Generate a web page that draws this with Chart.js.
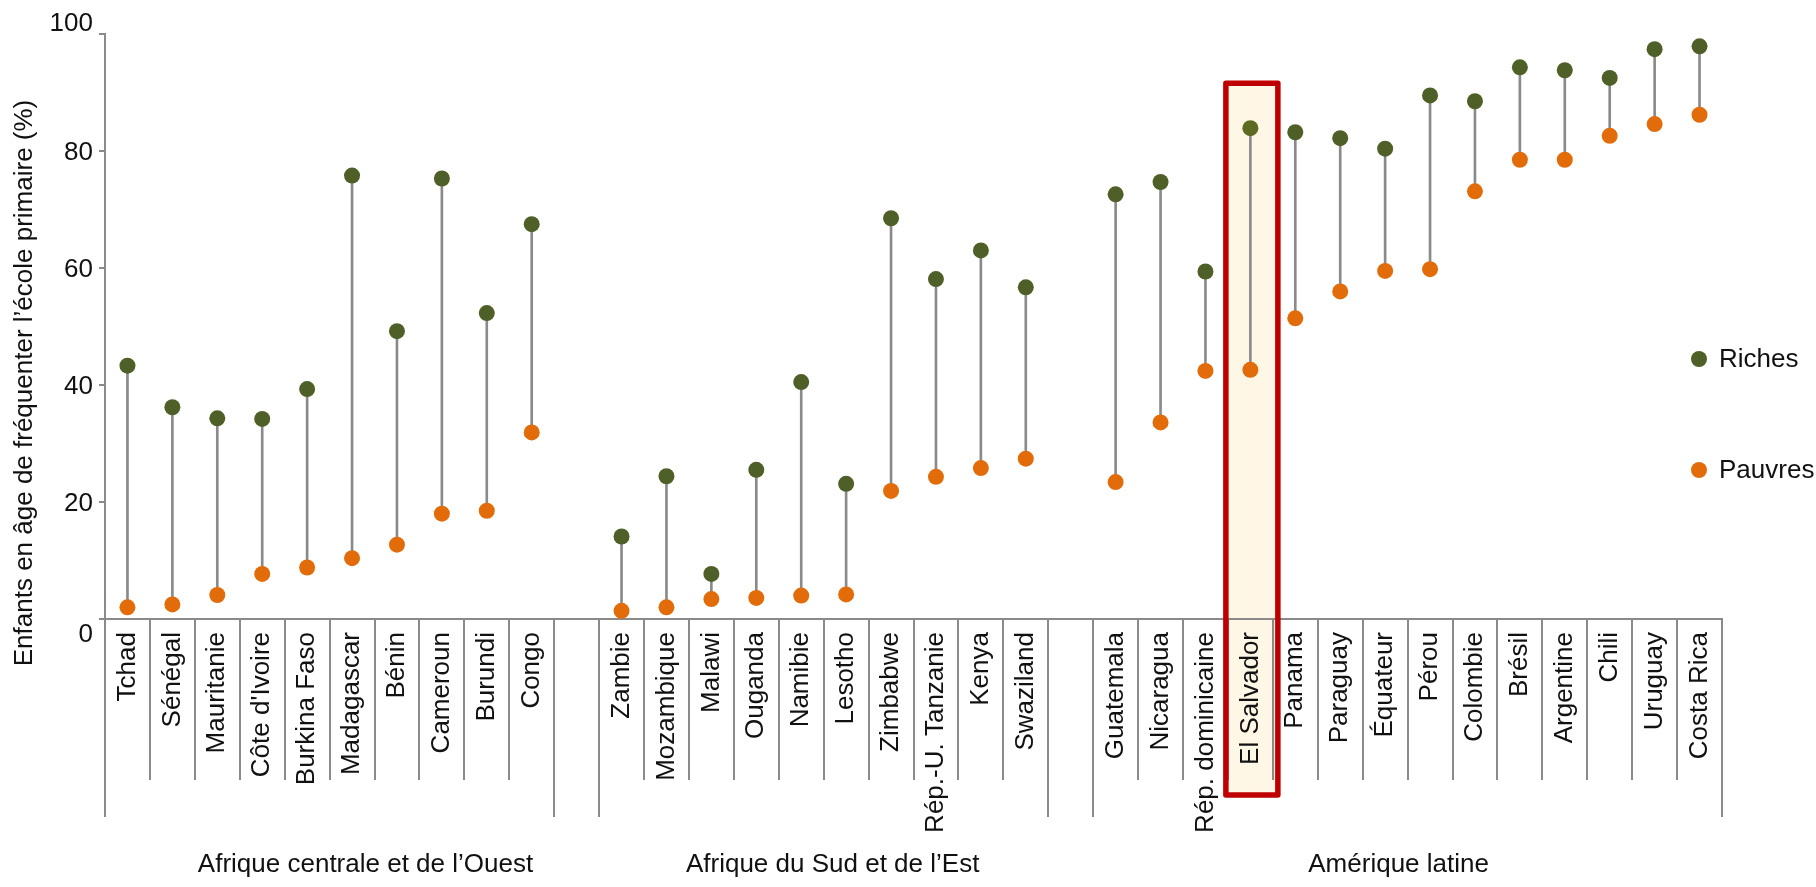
<!DOCTYPE html>
<html lang="fr">
<head>
<meta charset="utf-8">
<title>Fréquentation de l'école primaire, riches et pauvres</title>
<script src="https://cdn.jsdelivr.net/npm/chart.js@4.4.1/dist/chart.umd.min.js"></script>
<style>
  html, body { margin: 0; padding: 0; background: #fff; }
  #wrap { width: 1816px; height: 887px; position: relative; }
</style>
</head>
<body>
<div id="wrap"><canvas id="dumbbell"></canvas></div>
<script>
// -----------------------------
// Data
// -----------------------------
const pays = [
    'Tchad', 'Sénégal', 'Mauritanie', "Côte d'Ivoire", 'Burkina Faso', 'Madagascar', 'Bénin', 'Cameroun', 'Burundi', 'Congo',
    '',
    'Zambie', 'Mozambique', 'Malawi', 'Ouganda', 'Namibie', 'Lesotho', 'Zimbabwe', 'Rép.-U. Tanzanie', 'Kenya', 'Swaziland',
    '',
    'Guatemala', 'Nicaragua', 'Rép. dominicaine', 'El Salvador', 'Panama', 'Paraguay', 'Équateur', 'Pérou', 'Colombie',
    'Brésil', 'Argentine', 'Chili', 'Uruguay', 'Costa Rica'
];

const riches = [
    43.3, 36.2, 34.3, 34.2, 39.3, 75.8, 49.2, 75.3, 52.3, 67.5,
    null,
    14.1, 24.4, 7.7, 25.5, 40.5, 23.1, 68.5, 58.1, 63.0, 56.7,
    null,
    72.6, 74.7, 59.4, 83.9, 83.2, 82.2, 80.4, 89.5, 88.5, 94.3, 93.8, 92.5, 97.4, 97.9
];

const pauvres = [
    2.0, 2.5, 4.1, 7.7, 8.8, 10.4, 12.7, 18.0, 18.5, 31.9,
    null,
    1.4, 2.0, 3.4, 3.6, 4.0, 4.2, 21.9, 24.3, 25.8, 27.4,
    null,
    23.4, 33.6, 42.4, 42.6, 51.4, 56.0, 59.5, 59.8, 73.1, 78.5, 78.5, 82.6, 84.6, 86.2
];

const regions = ['Afrique centrale et de l’Ouest', 'Afrique du Sud et de l’Est', 'Amérique latine'];
const yTicks = [0, 20, 40, 60, 80, 100];
const yTitle = 'Enfants en âge de fréquenter l’école primaire (%)';
const highlighted = 'El Salvador';

// -----------------------------
// Styles
// -----------------------------
const FONT = "'Liberation Sans', Arial, Helvetica, sans-serif";
const GREEN = '#4e5f28';
const ORANGE = '#e36c0a';
const GREY = '#8a8a8a';
const INK = '#111111';

// where the region labels sit, in category units
const regionAnchors = [5.3, 15.7, 28.3];
// boundaries (category index) that get the long separator
const longSeps = [0, 10, 11, 21, 22, 36];

const hiIndex = pays.indexOf(highlighted);

// -----------------------------
// Extra drawing: highlight box, separators, labels, legend
// -----------------------------
const decorPlugin = {
    id: 'decor',
    beforeDraw(chart) {
        const { ctx, scales: { x, y } } = chart;
        const c = x.getPixelForValue(hiIndex);
        const top = y.getPixelForValue(91.6);
        ctx.save();
        ctx.fillStyle = '#fff7e6';
        ctx.fillRect(c - 24.5, top, 52, chart.chartArea.bottom + 176 - top);
        ctx.restore();
    },
    afterDraw(chart) {
        const { ctx, chartArea, scales: { x, y } } = chart;
        const bottom = chartArea.bottom;

        // category separators under the axis
        ctx.save();
        ctx.strokeStyle = GREY;
        ctx.lineWidth = 2;
        for (let b = 0; b <= pays.length; b++) {
            const px = Math.round(x.getPixelForValue(b - 0.5));
            const len = longSeps.includes(b) ? 198 : 161;
            ctx.beginPath();
            ctx.moveTo(px, bottom);
            ctx.lineTo(px, bottom + len);
            ctx.stroke();
        }
        ctx.restore();

        // y tick labels (0 sits below the axis, 100 above its tick)
        ctx.save();
        ctx.font = `26px ${FONT}`;
        ctx.fillStyle = INK;
        ctx.textAlign = 'right';
        ctx.textBaseline = 'middle';
        yTicks.forEach(v => {
            let py = y.getPixelForValue(v) + 2;
            if (v === 100) py -= 12;
            if (v === 0) py += 14;
            ctx.fillText(String(v), chartArea.left - 12, py);
        });
        ctx.restore();

        // y title
        ctx.save();
        ctx.font = `26px ${FONT}`;
        ctx.fillStyle = INK;
        ctx.textAlign = 'center';
        ctx.textBaseline = 'middle';
        ctx.translate(25, 383);
        ctx.rotate(-Math.PI / 2);
        ctx.fillText(yTitle, 0, 0);
        ctx.restore();

        // region labels
        ctx.save();
        ctx.font = `26px ${FONT}`;
        ctx.fillStyle = INK;
        ctx.textAlign = 'center';
        ctx.textBaseline = 'alphabetic';
        regions.forEach((name, i) => {
            ctx.fillText(name, x.getPixelForValue(regionAnchors[i]), bottom + 253);
        });
        ctx.restore();

        // legend (right side)
        const legendRows = [
            { label: chart.data.datasets[0].label, color: GREEN, y: 359 },
            { label: chart.data.datasets[1].label, color: ORANGE, y: 470 }
        ];
        ctx.save();
        ctx.font = `26px ${FONT}`;
        ctx.textAlign = 'left';
        ctx.textBaseline = 'middle';
        legendRows.forEach(row => {
            ctx.fillStyle = row.color;
            ctx.beginPath();
            ctx.arc(chartArea.right - 23, row.y, 8, 0, Math.PI * 2);
            ctx.fill();
            ctx.fillStyle = INK;
            ctx.fillText(row.label, chartArea.right - 3, row.y + 1);
        });
        ctx.restore();

        // red frame around the highlighted country
        const c = x.getPixelForValue(hiIndex);
        const top = y.getPixelForValue(91.6);
        ctx.save();
        ctx.strokeStyle = '#c00000';
        ctx.lineWidth = 5.5;
        ctx.lineJoin = 'round';
        ctx.strokeRect(c - 24.5, top, 52, bottom + 176 - top);
        ctx.restore();
    }
};

// -----------------------------
// Chart
// -----------------------------
const stems = riches.map((r, i) => (r == null || pauvres[i] == null) ? null : [pauvres[i], r]);

new Chart(document.getElementById('dumbbell'), {
    type: 'bar',
    data: {
        labels: pays,
        datasets: [
            {
                type: 'line',
                label: 'Riches',
                data: riches,
                showLine: false,
                pointRadius: 8,
                pointBorderWidth: 0,
                pointBackgroundColor: ctx => ctx.dataIndex === hiIndex ? '#5d6a22' : GREEN,
                order: 1
            },
            {
                type: 'line',
                label: 'Pauvres',
                data: pauvres,
                showLine: false,
                pointRadius: 8,
                pointBorderWidth: 0,
                pointBackgroundColor: ORANGE,
                order: 2
            },
            {
                type: 'bar',
                label: 'Écart',
                data: stems,
                backgroundColor: GREY,
                barThickness: 2,
                order: 3
            }
        ]
    },
    options: {
        responsive: true,
        maintainAspectRatio: false,
        animation: false,
        devicePixelRatio: 1,
        layout: {
            padding: { top: 34, right: 94, bottom: 0, left: 0 }
        },
        plugins: {
            legend: { display: false },
            tooltip: { enabled: false }
        },
        scales: {
            x: {
                offset: true,
                grid: { display: false },
                border: { display: true, color: GREY, width: 2 },
                ticks: {
                    autoSkip: false,
                    maxRotation: 90,
                    minRotation: 90,
                    padding: 5,
                    color: INK,
                    font: { family: FONT, size: 26 }
                },
                afterFit: scale => { scale.height = 268; }
            },
            y: {
                min: 0,
                max: 100,
                ticks: { stepSize: 20, display: false },
                grid: { drawOnChartArea: false, drawTicks: true, tickLength: 6, color: GREY, lineWidth: 2 },
                border: { display: true, color: GREY, width: 2 },
                afterFit: scale => { scale.width = 105; }
            }
        }
    },
    plugins: [decorPlugin]
});
</script>
</body>
</html>
